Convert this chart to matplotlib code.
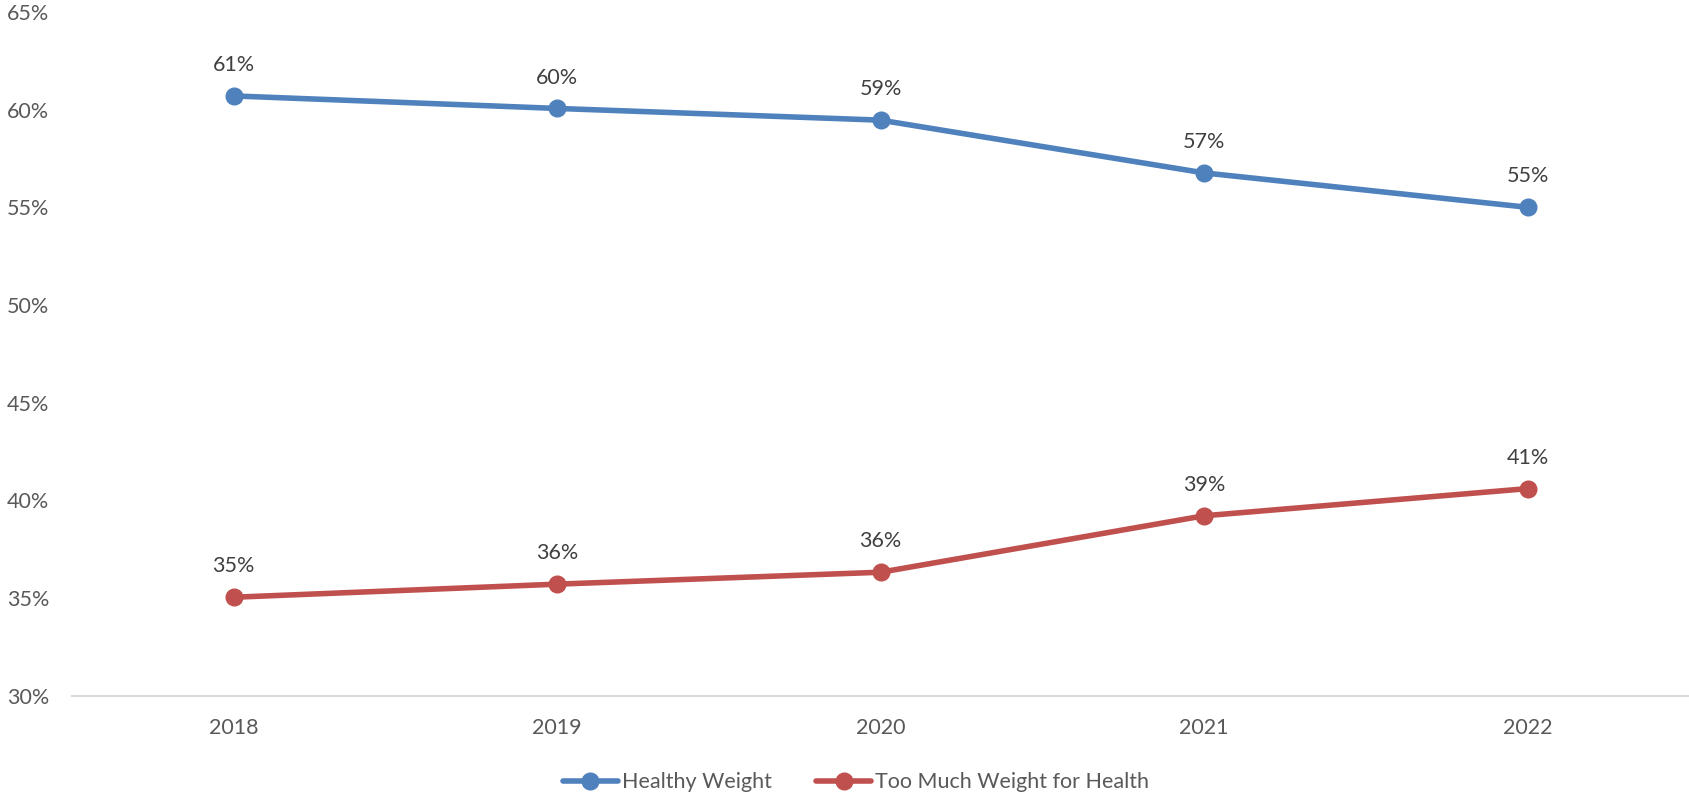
import matplotlib
matplotlib.use("Agg")
import matplotlib.pyplot as plt
from matplotlib.ticker import FuncFormatter

years = ["2018", "2019", "2020", "2021", "2022"]
healthy = [60.7, 60.06, 59.46, 56.76, 55.0]
too_much = [35.04, 35.71, 36.32, 39.21, 40.6]
series_names = ["Healthy Weight", "Too Much Weight for Health"]
colors = ["#4F81BD", "#C0504D"]

plt.rcParams['font.family'] = ['Lato', 'DejaVu Sans']
FS = 15.5

fig = plt.figure(figsize=(16.9, 7.95), dpi=100)
ax = fig.add_axes([0.0426, 0.1249, 0.957, 0.8601])

x = list(range(len(years)))
for vals, name, c in zip([healthy, too_much], series_names, colors):
    ax.plot(x, vals, color=c, lw=4, marker='o', markersize=12, label=name,
            solid_capstyle='round')
    for xi, v in zip(x, vals):
        ax.annotate(f"{round(v):.0f}%", (xi, v), xytext=(0, 15), textcoords='offset points',
                    ha='center', va='bottom', fontsize=FS, color='#404040')

ax.set_xlim(-0.5, len(years) - 0.5)
ax.set_ylim(30, 65)
ax.set_yticks(range(30, 66, 5))
ax.yaxis.set_major_formatter(FuncFormatter(lambda v, p: f"{v:.0f}%"))
ax.set_xticks(x)
ax.set_xticklabels(years)
ax.tick_params(axis='both', length=0, labelsize=FS, labelcolor='#595959')
ax.tick_params(axis='y', pad=16.5)
ax.tick_params(axis='x', pad=16)
for s in ['top', 'right', 'left']:
    ax.spines[s].set_visible(False)
ax.spines['bottom'].set_color('#D9D9D9')
ax.spines['bottom'].set_linewidth(1.5)

leg = fig.legend(loc='lower center', bbox_to_anchor=(0.5066, -0.021), ncol=2, frameon=False,
                 fontsize=FS, handlelength=2.55, handletextpad=0.2, columnspacing=2.05)
for t in leg.get_texts():
    t.set_color('#595959')

fig.savefig("out.png", dpi=100)
